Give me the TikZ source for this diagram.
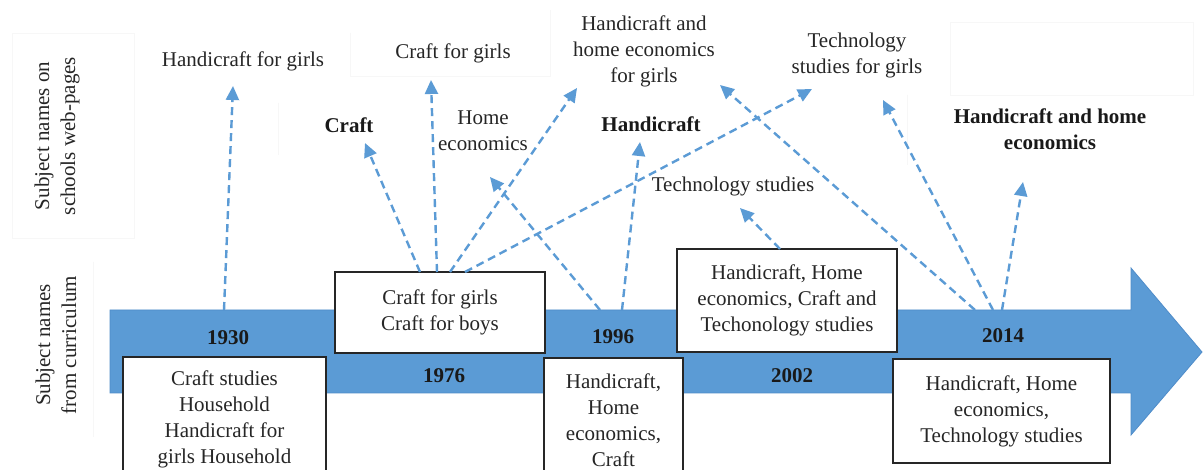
\documentclass[tikz,border=0pt]{standalone}
\usepackage{fontspec}
\setmainfont[Ligatures=TeX]{Liberation Serif}
\usetikzlibrary{arrows.meta}
\definecolor{tlblue}{HTML}{5B9BD5}
\definecolor{tledge}{HTML}{4F8CC9}
\definecolor{dashblue}{HTML}{5B9BD5}
\begin{document}
\begin{tikzpicture}[x=1pt,y=-1pt,
 lbl/.style={font=\fontsize{21}{26}\selectfont, align=center, inner sep=0pt, text=black!85},
 blbl/.style={font=\fontsize{21}{26}\selectfont\bfseries, align=center, inner sep=0pt, text=black!90},
 yr/.style={font=\fontsize{21}{24}\selectfont\bfseries, inner sep=0pt, text=black!90},
 tbox/.style={draw=black!85, line width=1.3pt, fill=white, align=center, font=\fontsize{21}{26}\selectfont, text=black!85, inner sep=0pt},
 link/.style={draw=dashblue, line width=2.4pt, dash pattern=on 8pt off 5pt, -{Triangle[length=14pt,width=13pt]}},
 faint/.style={draw=black!3, line width=0.6pt}]
\useasboundingbox[fill=white] (0,0) rectangle (1203,470);

% faint frames
\draw[faint] (12,33) rectangle (134,238);
\draw[faint] (93,262) -- (93,437);
\draw[faint] (950,22) rectangle (1193,95);
\draw[faint] (350,33) |- (550,76) -- (550,10);
\draw[faint] (278,103) -- (278,155);
\draw[faint] (907,95) -- (907,165);

% side labels
\node[lbl, rotate=90] (side1) at (57,136) {Subject names on\\schools web-pages};
\node[lbl, rotate=90] (side2) at (56,345) {Subject names\\from curriculum};

% timeline arrow
\draw[fill=tlblue, draw=tledge, line width=0.8pt]
  (110,310) -- (1131,310) -- (1131,268) -- (1202,352) -- (1131,435) -- (1131,393) -- (110,393) -- cycle;

% top labels
\node[lbl] (thg) at (243,61) {Handicraft for girls};
\node[lbl] (tcg) at (453,53) {Craft for girls};
\node[lbl] (thheg) at (644,51) {Handicraft and\\home economics\\for girls};
\node[lbl] (ttsg) at (857,55) {Technology\\studies for girls};
\node[blbl] (tcraft) at (349,125) {Craft};
\node[lbl] (thome) at (483,131) {Home\\economics};
\node[blbl] (thandi) at (651,124) {Handicraft};
\node[lbl] (tts) at (733,186) {Technology studies};
\node[blbl] (thhe) at (1050,129) {Handicraft and home\\economics};

% boxes
\node[tbox, minimum width=203pt, minimum height=125pt] (b1930) at (224.5,419.5) {Craft studies\\Household\\Handicraft for\\girls Household};
\node[tbox, minimum width=210pt, minimum height=81pt] (b1976) at (440,312.5) {Craft for girls\\Craft for boys};
\node[tbox, minimum width=139pt, minimum height=125pt] (b1996) at (613.5,420.5) {Handicraft,\\Home\\economics,\\Craft};
\node[tbox, minimum width=220pt, minimum height=103pt] (b2002) at (787,300.5) {Handicraft, Home\\economics, Craft and\\Techonology studies};
\node[tbox, minimum width=217pt, minimum height=104pt] (b2014) at (1001.5,411) {Handicraft, Home\\economics,\\Technology studies};

% years
\node[yr] (y1930) at (228,338) {1930};
\node[yr] (y1976) at (444,376) {1976};
\node[yr] (y1996) at (613,337) {1996};
\node[yr] (y2002) at (792,376) {2002};
\node[yr] (y2014) at (1003,336) {2014};

% connector endpoints
\coordinate (s1) at (224,310);  \coordinate (e1) at (233,86);
\coordinate (s2) at (420,272);  \coordinate (e2) at (365,143);
\coordinate (s3) at (437,272);  \coordinate (e3) at (431,80);
\coordinate (s4) at (450,272);  \coordinate (e4) at (577,88);
\coordinate (s5) at (465,272);  \coordinate (e5) at (812,89);
\coordinate (s6) at (600,310);  \coordinate (e6) at (490,177);
\coordinate (s7) at (622,310);  \coordinate (e7) at (640,142);
\coordinate (s8) at (780,249);  \coordinate (e8) at (740,208);
\coordinate (s9) at (975,310);  \coordinate (e9) at (720,85);
\coordinate (s10) at (993,310); \coordinate (e10) at (883,100);
\coordinate (s11) at (1002,310);\coordinate (e11) at (1023,182);

\foreach \i in {1,...,11} { \draw[link] (s\i) -- (e\i); }
\end{tikzpicture}
\end{document}
